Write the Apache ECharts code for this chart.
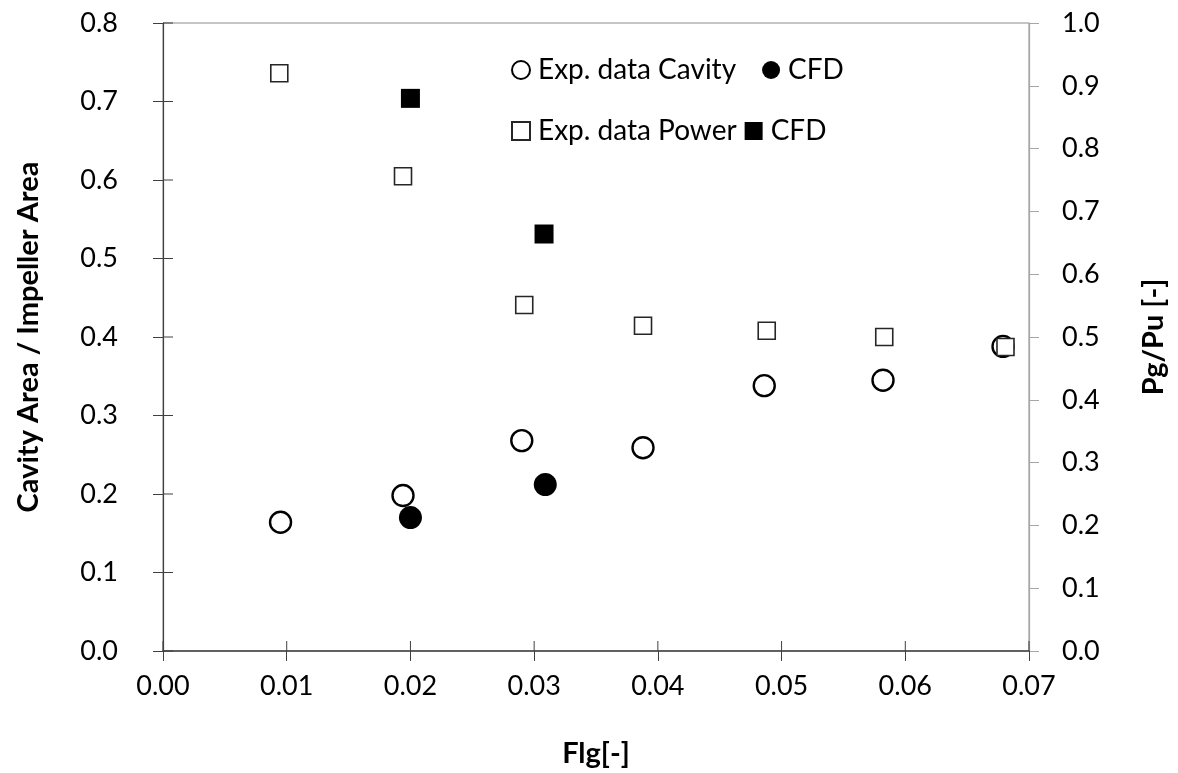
<!DOCTYPE html>
<html>
<head>
<meta charset="utf-8">
<script src="https://cdn.jsdelivr.net/npm/echarts@6/dist/echarts.min.js"></script>
<style>html,body{margin:0;padding:0;background:#fff}#c{width:1178px;height:773px}</style>
</head>
<body>
<div id="c"></div>
<script>
// Data (x = Flg[-])
var cavityExpX = [0.0095, 0.0194, 0.0290, 0.0388, 0.0486, 0.0582, 0.0679];
var cavityExpY = [0.164, 0.198, 0.268, 0.259, 0.338, 0.345, 0.388];
var cavityCfdX = [0.0200, 0.0309];
var cavityCfdY = [0.170, 0.212];
var powerExpX = [0.0094, 0.0194, 0.0292, 0.0388, 0.0488, 0.0583, 0.0681];
var powerExpY = [0.920, 0.756, 0.551, 0.518, 0.510, 0.500, 0.484];
var powerCfdX = [0.0200, 0.0308];
var powerCfdY = [0.880, 0.664];
var xTicks = [0, 0.01, 0.02, 0.03, 0.04, 0.05, 0.06, 0.07];
var leftTicks = [0, 0.1, 0.2, 0.3, 0.4, 0.5, 0.6, 0.7, 0.8];
var rightTicks = [0, 0.1, 0.2, 0.3, 0.4, 0.5, 0.6, 0.7, 0.8, 0.9, 1.0];

function pairs(xs, ys) { return xs.map(function (x, i) { return [x, ys[i]]; }); }

var FONT = 'Lato';
var chart = echarts.init(document.getElementById('c'), null, { renderer: 'canvas' });
var leftAxisColor = '#404040';
var rightAxisColor = '#a6a6a6';

chart.setOption({
  animation: false,
  backgroundColor: '#ffffff',
  textStyle: { fontFamily: FONT },
  grid: { left: 163, right: 149, top: 23, bottom: 121, show: true, borderColor: '#8c8c8c', borderWidth: 1 },
  legend: [
    {
      left: 506, top: 51, orient: 'horizontal', itemGap: 26, itemWidth: 18, itemHeight: 18,
      data: [{ name: 'Exp. data Cavity', icon: 'circle' }, { name: 'CFD', icon: 'circle' }],
      textStyle: { fontFamily: FONT, fontSize: 28, color: '#000', padding: [0, 0, 0, 3] }
    },
    {
      left: 506, top: 112, orient: 'horizontal', itemGap: 8, itemWidth: 18, itemHeight: 18,
      data: [{ name: 'Exp. data Power', icon: 'rect' }, { name: 'CFD ', icon: 'rect' }],
      textStyle: { fontFamily: FONT, fontSize: 28, color: '#000', padding: [0, 0, 0, 3] }
    }
  ],
  xAxis: {
    type: 'value', min: 0, max: 0.07, interval: 0.01, position: 'bottom',
    name: 'Flg[-]', nameLocation: 'middle', nameGap: 88,
    nameTextStyle: { fontFamily: FONT, fontSize: 29, fontWeight: 'bold', color: '#000' },
    axisLine: { show: true, lineStyle: { color: leftAxisColor, width: 1.5 } },
    axisTick: { show: true, inside: false, length: 10, lineStyle: { color: leftAxisColor } },
    axisLabel: { margin: 22, fontSize: 27, color: '#000', fontFamily: FONT,
      formatter: function (v) { return v.toFixed(2); } },
    splitLine: { show: false }
  },
  yAxis: [
    {
      type: 'value', min: 0, max: 0.8, interval: 0.1, position: 'left',
      name: 'Cavity Area / Impeller Area', nameLocation: 'middle', nameGap: 120, nameRotate: 90,
      nameTextStyle: { fontFamily: FONT, fontSize: 29, fontWeight: 'bold', color: '#000' },
      axisLine: { show: true, lineStyle: { color: leftAxisColor, width: 1.2 } },
      axisTick: { show: true, inside: false, length: 10, lineStyle: { color: leftAxisColor } },
      axisLabel: { margin: 45, fontSize: 27, color: '#000', fontFamily: FONT,
        formatter: function (v) { return v.toFixed(1); } },
      splitLine: { show: false }
    },
    {
      type: 'value', min: 0, max: 1.0, interval: 0.1, position: 'right',
      name: 'Pg/Pu [-]', nameLocation: 'middle', nameGap: 110, nameRotate: 90,
      nameTextStyle: { fontFamily: FONT, fontSize: 29, fontWeight: 'bold', color: '#000' },
      axisLine: { show: true, lineStyle: { color: rightAxisColor, width: 1.2 } },
      axisTick: { show: true, inside: false, length: 10, lineStyle: { color: rightAxisColor } },
      axisLabel: { margin: 33, fontSize: 27, color: '#000', fontFamily: FONT,
        formatter: function (v) { return v.toFixed(1); } },
      splitLine: { show: false }
    }
  ],
  series: [
    {
      name: 'Exp. data Power', type: 'scatter', xAxisIndex: 0, yAxisIndex: 1,
      data: pairs(powerExpX, powerExpY), symbol: 'rect', symbolSize: 17, z: 3,
      itemStyle: { color: '#ffffff', borderColor: '#262626', borderWidth: 1.6, opacity: 1 }
    },
    {
      name: 'CFD ', type: 'scatter', xAxisIndex: 0, yAxisIndex: 1,
      data: pairs(powerCfdX, powerCfdY), symbol: 'rect', symbolSize: 19, z: 3,
      itemStyle: { color: '#000000', borderColor: '#000000', borderWidth: 0, opacity: 1 }
    },
    {
      name: 'Exp. data Cavity', type: 'scatter', xAxisIndex: 0, yAxisIndex: 0,
      data: pairs(cavityExpX, cavityExpY), symbol: 'circle', symbolSize: 21, z: 2,
      itemStyle: { color: '#ffffff', borderColor: '#000000', borderWidth: 2.4, opacity: 1 }
    },
    {
      name: 'CFD', type: 'scatter', xAxisIndex: 0, yAxisIndex: 0,
      data: pairs(cavityCfdX, cavityCfdY), symbol: 'circle', symbolSize: 23, z: 4,
      itemStyle: { color: '#000000', borderColor: '#000000', borderWidth: 0, opacity: 1 }
    }
  ]
});

// Inner half of the crossing tick marks, positioned through the chart's own scales.
var finder = { xAxisIndex: 0, yAxisIndex: 0 };
var tickLen = 10;
var tickGraphics = [];
xTicks.forEach(function (v) {
  var p = chart.convertToPixel(finder, [v, 0]);
  tickGraphics.push({ type: 'line', silent: true, z: 50,
    shape: { x1: p[0], y1: p[1], x2: p[0], y2: p[1] - tickLen },
    style: { stroke: leftAxisColor, lineWidth: 1 } });
});
leftTicks.forEach(function (v) {
  var p = chart.convertToPixel(finder, [0, v]);
  tickGraphics.push({ type: 'line', silent: true, z: 50,
    shape: { x1: p[0], y1: p[1], x2: p[0] + tickLen, y2: p[1] },
    style: { stroke: leftAxisColor, lineWidth: 1 } });
});
chart.setOption({ graphic: { elements: tickGraphics } });
</script>
</body>
</html>
